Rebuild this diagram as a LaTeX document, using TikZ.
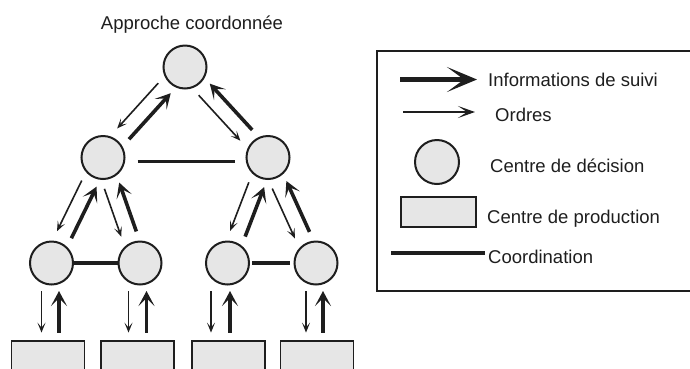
\documentclass[tikz,border=0pt]{standalone}
\usepackage{fontspec}
\setmainfont{Liberation Sans}
\usetikzlibrary{arrows.meta,calc}

\definecolor{ink}{HTML}{1E1E1E}
\definecolor{shade}{HTML}{E6E6E6}

\tikzset{
  decision/.style={circle, draw=ink, fill=shade, line width=2pt, minimum size=43pt, inner sep=0pt},
  production/.style={rectangle, draw=ink, fill=shade, line width=1.8pt, minimum width=73pt, minimum height=46pt, inner sep=0pt},
  suivi/.style={draw=ink, line width=3.6pt, -{Stealth[length=15pt,width=16pt,inset=8pt]}},
  ordre/.style={draw=ink, line width=1.6pt, -{Stealth[length=10pt,width=8pt,inset=5pt]}},
  coordline/.style={draw=ink, line width=3.6pt},
  label/.style={inner sep=0pt, anchor=base west, text=ink},
}

% arrow pair between an upper and a lower decision centre:
% orders go down, follow-up information comes back up, each keeping to its right
\newcommand\linkpair[2]{%
  \draw[ordre] ($(#1)!30pt!(#2)!9pt!-90:(#2)$) -- ($(#2)!31pt!(#1)!9pt!90:(#1)$);
  \draw[suivi] ($(#2)!31pt!(#1)!7pt!-90:(#1)$) -- ($(#1)!29pt!(#2)!7pt!90:(#2)$);
}
% vertical pair between a decision centre and its production centre
\newcommand\prodpair[4]{%
  \draw[ordre] ([shift={(#3pt,-5.5pt)}]#1.south) -- ([shift={(#3pt,7.5pt)}]#1.south |- #2.north);
  \draw[suivi] ([shift={(#4pt,7.5pt)}]#1.south |- #2.north) -- ([shift={(#4pt,-5.5pt)}]#1.south);
}

\begin{document}
\begin{tikzpicture}[x=1pt, y=-1pt, font=\fontsize{18.5}{22}\selectfont]
\useasboundingbox (0,0) rectangle (690,368);
\clip (0,0) rectangle (690,368);

% title
\node[label, anchor=base] (title) at (192,29) {Approche coordonnée};

% decision centres
\node[decision] (top) at (185,67) {};
\node[decision] (ml) at (103,157.5) {};
\node[decision] (mr) at (268,157.5) {};
\node[decision] (b1) at (51.5,263) {};
\node[decision] (b2) at (140,263) {};
\node[decision] (b3) at (227.5,263) {};
\node[decision] (b4) at (316,263) {};

% production centres (running off the lower edge)
\node[production] (p1) at (48,364) {};
\node[production] (p2) at (137.5,364) {};
\node[production] (p3) at (228.5,364) {};
\node[production] (p4) at (317,364) {};

% coordination links
\draw[coordline] ([shift={(12pt,-4pt)}]ml.east) -- ([shift={(-11pt,-4pt)}]mr.west);
\draw[coordline] (b1.east) -- (b2.west);
\draw[coordline] ([xshift=2pt]b3.east) -- ([xshift=-4pt]b4.west);

% hierarchy links
\linkpair{top}{ml}
\linkpair{top}{mr}
\linkpair{ml}{b1}
\linkpair{ml}{b2}
\linkpair{mr}{b3}
\linkpair{mr}{b4}

\prodpair{b1}{p1}{-10}{7.5}
\prodpair{b2}{p2}{-11.5}{6.5}
\prodpair{b3}{p3}{-16.5}{2.5}
\prodpair{b4}{p4}{-10}{7}

% legend
\draw[ink, line width=1.5pt] (377,51) rectangle (700,291);

\coordinate (ls1) at (400,79.5);
\coordinate (le1) at (477,79.5);
\draw[draw=ink, line width=5pt, -{Stealth[length=30pt,width=25pt,inset=17pt]}] (ls1) -- (le1);
\node[label] (lt1) at (488,86.5) {Informations de suivi};

\coordinate (ls2) at (403,112);
\coordinate (le2) at (475,112);
\draw[draw=ink, line width=2pt, -{Stealth[length=17pt,width=12pt,inset=9pt]}] (ls2) -- (le2);
\node[label] (lt2) at (495,121.5) {Ordres};

\node[decision, minimum size=44pt] (lc) at (437,162) {};
\node[label] (lt3) at (490,172) {Centre de décision};

\node[production, minimum width=75pt, minimum height=30pt] (lp) at (438.5,212) {};
\node[label] (lt4) at (487,223) {Centre de production};

\coordinate (ls5) at (391,253);
\coordinate (le5) at (485,253);
\draw[coordline] (ls5) -- (le5);
\node[label] (lt5) at (488,263) {Coordination};
\end{tikzpicture}
\end{document}
